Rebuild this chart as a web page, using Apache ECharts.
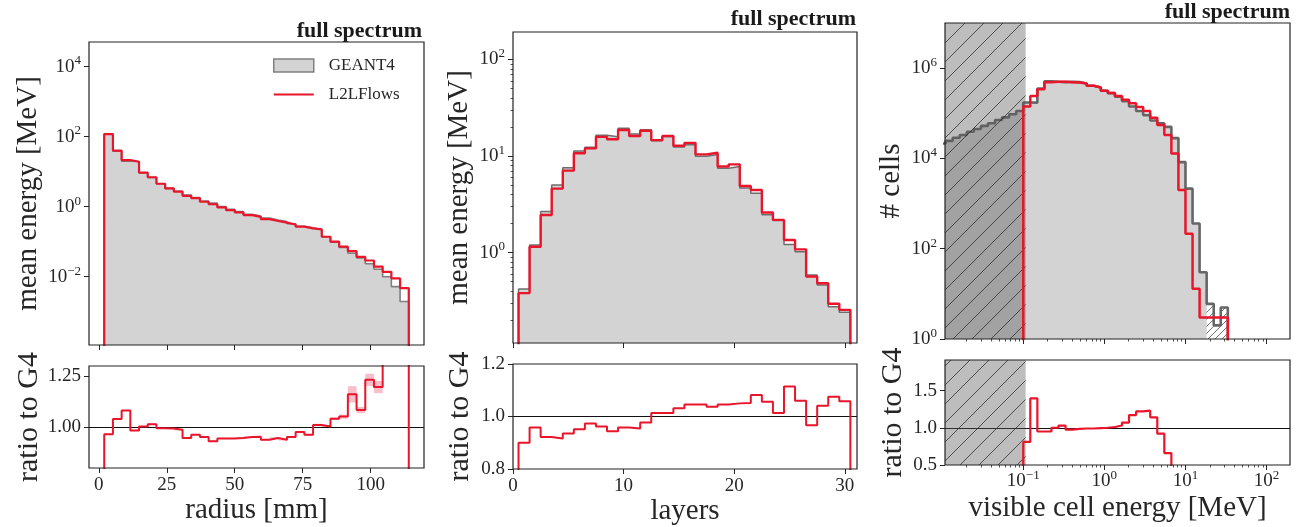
<!DOCTYPE html>
<html>
<head>
<meta charset="utf-8">
<script src="https://cdn.jsdelivr.net/npm/echarts@6/dist/echarts.min.js"></script>
<style>
  html, body { margin: 0; padding: 0; background: #fff; }
  #chart { width: 1297px; height: 527px; }
</style>
</head>
<body>
<div id="chart"></div>
<script>
// ---------------- radial profile (35 bins, mm) ----------------
const radiusEdges = [2, 5.2, 8.4, 11.6, 14.8, 18, 21.2, 24.4, 27.6, 30.8, 34, 37.2, 40.4, 43.6, 46.8,
  50, 53.2, 56.4, 59.6, 62.8, 66, 69.2, 72.4, 75.6, 78.8, 82, 85.2, 88.4, 91.6, 94.8, 98, 101.2,
  104.4, 107.6, 110.8, 114];
const radiusG4 = [121, 38.3, 19.8, 19.4, 9.27, 6.8, 4.52, 3.32, 2.74, 2.15, 1.81, 1.45, 1.26, 1.005,
  0.836, 0.729, 0.604, 0.535, 0.469, 0.412, 0.373, 0.326, 0.276, 0.249, 0.222, 0.138, 0.096, 0.0684,
  0.0465, 0.0341, 0.0235, 0.0163, 0.0100, 0.0052, 0.00196];
const radiusL2L = [117, 39.8, 21.4, 19.1, 9.3, 6.9, 4.5, 3.3, 2.7, 2.04, 1.74, 1.38, 1.17, 0.95,
  0.79, 0.69, 0.575, 0.51, 0.44, 0.39, 0.35, 0.31, 0.27, 0.24, 0.224, 0.138, 0.1, 0.072,
  0.054, 0.037, 0.029, 0.0195, 0.0138, 0.0089, 0.0047];
const radiusRatio = [0.966, 1.04, 1.082, 0.984, 1.003, 1.015, 0.995, 0.994, 0.987, 0.947, 0.963,
  0.952, 0.931, 0.945, 0.945, 0.947, 0.952, 0.953, 0.939, 0.947, 0.939, 0.952, 0.977, 0.963,
  1.011, 1.003, 1.042, 1.052, 1.161, 1.084, 1.232, 1.197, 1.38, 1.7, 2.4];
const radiusRatioErr = [0.003, 0.003, 0.003, 0.003, 0.003, 0.003, 0.003, 0.003, 0.003, 0.003,
  0.003, 0.003, 0.003, 0.003, 0.003, 0.003, 0.003, 0.003, 0.004, 0.004, 0.004, 0.004, 0.004,
  0.004, 0.006, 0.006, 0.006, 0.01, 0.04, 0.015, 0.03, 0.03, 0.05, 0.08, 0.15];
const radiusTicks = [0, 25, 50, 75, 100];

// ---------------- longitudinal profile (30 layers) ----------------
const layerEdges = [0.5, 1.5, 2.5, 3.5, 4.5, 5.5, 6.5, 7.5, 8.5, 9.5, 10.5, 11.5, 12.5, 13.5, 14.5,
  15.5, 16.5, 17.5, 18.5, 19.5, 20.5, 21.5, 22.5, 23.5, 24.5, 25.5, 26.5, 27.5, 28.5, 29.5, 30.5];
const layerG4 = [0.42, 1.2, 2.66, 5.02, 7.55, 11.25, 12.3, 16.4, 15.8, 19.4, 16.9, 18.7, 14.4, 15.9,
  12.4, 13.1, 9.94, 10.4, 7.46, 7.81, 4.66, 4.11, 2.46, 2.15, 1.21, 1.02, 0.584, 0.461, 0.274, 0.241];
const layerL2L = [0.38, 1.15, 2.45, 4.6, 7.06, 10.7, 12.0, 15.8, 14.9, 18.6, 16.1, 18.3, 14.6, 16.1,
  12.8, 13.7, 10.4, 10.8, 7.8, 8.2, 4.9, 4.45, 2.6, 2.18, 1.35, 1.08, 0.565, 0.48, 0.295, 0.255];
const layerRatio = [0.90, 0.958, 0.922, 0.916, 0.935, 0.951, 0.973, 0.962, 0.944, 0.958, 0.954, 0.977,
  1.013, 1.013, 1.031, 1.046, 1.046, 1.037, 1.046, 1.05, 1.051, 1.082, 1.056, 1.013, 1.114, 1.06,
  0.967, 1.041, 1.075, 1.058];
const layerTicks = [0, 10, 20, 30];

// ---------------- visible cell energy spectrum (MeV, log bins) ----------------
const energyEdges = [0.009036, 0.01104, 0.01349, 0.01648, 0.02014, 0.02460, 0.03006, 0.03673,
  0.04487, 0.05483, 0.06699, 0.08185, 0.1, 0.1222, 0.1493, 0.1824, 0.2228, 0.2723, 0.3327, 0.4064,
  0.4966, 0.6067, 0.7413, 0.9057, 1.1066, 1.352, 1.652, 2.018, 2.466, 3.013, 3.681, 4.498, 5.495,
  6.714, 8.204, 10.02, 12.25, 14.96, 18.28, 22.34, 27.29, 33.34];
const cellsG4 = [21400, 24500, 28800, 33100, 38900, 44700, 52500, 60300, 70800, 81300, 95500, 112000,
  174000, 172000, 355000, 513000, 501000, 490000, 501000, 490000, 457000, 407000, 372000, 316000,
  279000, 233000, 186000, 141000, 112000, 91200, 69200, 60300, 50100, 28200, 8300, 2140, 363, 30,
  6, 2, 5];
const l2lFirstBin = 12;            // L2LFlows cells start at 0.1 MeV
const cellsL2L = [141000, 240000, 339000, 490000, 501000, 501000, 490000, 479000, 457000, 407000,
  372000, 316000, 282000, 240000, 200000, 166000, 138000, 112000, 79400, 55000, 33100, 12900, 2000,
  214, 13, 3];
const cellsRatio = [0.81, 1.395, 0.95, 0.95, 1.0, 1.03, 0.975, 0.985, 0.99, 0.99, 0.995, 1.0, 1.01,
  1.03, 1.07, 1.17, 1.22, 1.23, 1.14, 0.92, 0.66, 0.46, 0.24, 0.1, 0.036, 0.1];
const lowStatBins = [38, 39, 40];  // sparse GEANT4 tail bins, drawn hatched
const energyCut = 0.107;           // cells below this energy are masked
const energyTicks = [-1, 0, 1, 2];

// ---------------- style ----------------
const FONT = '"Liberation Serif", "DejaVu Serif", serif';
const INK = '#262626';
const RED = '#e8152b';
const G4_FILL = '#d3d3d3';
const BAND = 'rgba(240,110,135,0.45)';
const FLOOR = -50;
const lg = Math.log10;
const same = v => v;

function hatchCanvas(bg, ink, step, width) {
  const c = document.createElement('canvas');
  c.width = step; c.height = step;
  const g = c.getContext('2d');
  g.fillStyle = bg; g.fillRect(0, 0, step, step);
  g.strokeStyle = ink; g.lineWidth = width;
  g.beginPath();
  g.moveTo(-1, step + 1); g.lineTo(step + 1, -1);
  g.moveTo(-1, 1); g.lineTo(1, -1);
  g.moveTo(step - 1, step + 1); g.lineTo(step + 1, step - 1);
  g.stroke();
  return c;
}
const maskPattern = { image: hatchCanvas('rgba(90,90,90,0.40)', 'rgba(40,40,40,0.75)', 19, 1), repeat: 'repeat' };
const tailPattern = { image: hatchCanvas('#ffffff', 'rgba(60,60,60,0.8)', 7, 0.9), repeat: 'repeat' };

// histogram outline: rises from below the axis at the first edge, drops at the last
function stepData(edges, values, fx, fy) {
  const last = edges.length - 1;
  const pts = [[fx(edges[0]), FLOOR]];
  values.forEach((v, i) => pts.push([fx(edges[i]), fy(v)]));
  pts.push([fx(edges[last]), fy(values[values.length - 1])]);
  pts.push([fx(edges[last]), FLOOR]);
  return pts;
}
function stepLevels(edges, values, fx) {
  const pts = values.map((v, i) => [fx(edges[i]), v]);
  pts.push([fx(edges[values.length]), values[values.length - 1]]);
  return pts;
}
function minorLogTicks(lo, hi) {
  const out = [];
  for (let d = Math.floor(lo); d <= Math.ceil(hi); d++)
    for (let m = 2; m <= 9; m++) {
      const v = d + lg(m);
      if (v > lo && v < hi) out.push(v);
    }
  return out;
}
function powLabel(v) {
  const e = Math.round(v);
  return '{b|10}{s|' + (e < 0 ? '\u2212' + (-e) : String(e)) + '}';
}
const powRich = {
  b: { fontFamily: FONT, fontSize: 19, color: INK, lineHeight: 24 },
  s: { fontFamily: FONT, fontSize: 13, color: INK, verticalAlign: 'top', lineHeight: 13 }
};

function axis(o) {
  const ax = {
    type: 'value', gridIndex: o.grid, min: o.min, max: o.max, position: o.pos, z: 5,
    axisLine: { show: false, onZero: false },
    splitLine: { show: false },
    axisTick: { show: true, inside: false, length: o.tickLen || 5, customValues: o.ticks,
      lineStyle: { color: INK, width: 1 } },
    axisLabel: { show: !!o.labels, customValues: o.ticks, margin: o.margin || 8, color: INK,
      fontFamily: FONT, fontSize: 19, formatter: o.fmt, rich: o.rich }
  };
  if (o.name) {
    ax.name = o.name;
    ax.nameLocation = 'middle';
    ax.nameGap = o.gap;
    ax.nameTextStyle = { fontFamily: FONT, fontSize: o.nameSize || 29, color: INK };
  }
  return ax;
}
const minorAxis = (grid, min, max, pos) => ({
  type: 'value', gridIndex: grid, min: min, max: max, position: pos, z: 5,
  axisLine: { show: false, onZero: false }, splitLine: { show: false }, axisLabel: { show: false },
  axisTick: { show: true, length: 2.5, customValues: minorLogTicks(min, max),
    lineStyle: { color: INK, width: 0.8 } }
});

// axis ranges
const X1 = [-3.6, 119.6], Y1 = [-3.95, 4.7], R1 = [0.8, 1.3];
const X2 = [0, 31.1], Y2 = [-0.937, 2.285], R2 = [0.8, 1.2];
const X3 = [-1.965, 2.29], Y3 = [0, 7], R3 = [0.5, 1.91];

const gridBox = (left, top, width, height) => ({
  left, top, width, height, show: true, z: 10, backgroundColor: 'rgba(0,0,0,0)',
  borderColor: '#222', borderWidth: 1.2, containLabel: false
});

const unitLine = {
  silent: true, symbol: 'none', label: { show: false }, animation: false,
  lineStyle: { color: '#111', width: 1, type: 'solid' }, data: [{ yAxis: 1 }]
};

const lineBase = { type: 'line', symbol: 'none', step: 'end', animation: false, clip: true, silent: true };

// uncertainty band of the ratio, one rectangle per bin
function bandSeries(xi, yi, edges, ratio, err) {
  return {
    type: 'custom', name: 'ratio uncertainty', xAxisIndex: xi, yAxisIndex: yi, z: 3, silent: true,
    clip: true, animation: false,
    data: ratio.map((r, i) => [edges[i], edges[i + 1], r - err[i], r + err[i]]),
    encode: { x: [0, 1], y: [2, 3] },
    renderItem: (params, api) => {
      const a = api.coord([api.value(0), api.value(3)]);
      const b = api.coord([api.value(1), api.value(2)]);
      const shape = echarts.graphic.clipRectByRect(
        { x: a[0], y: a[1], width: b[0] - a[0], height: b[1] - a[1] }, params.coordSys);
      return shape ? { type: 'rect', shape: shape, style: { fill: BAND } } : null;
    }
  };
}

const series = [
  // ---- radius, main ----
  Object.assign({}, lineBase, { name: 'GEANT4', xAxisIndex: 0, yAxisIndex: 0, z: 2,
    data: stepData(radiusEdges, radiusG4, same, lg),
    lineStyle: { color: '#7f7f7f', width: 1.6 },
    areaStyle: { color: G4_FILL, opacity: 1, origin: 'start' } }),
  Object.assign({}, lineBase, { name: 'L2LFlows', xAxisIndex: 0, yAxisIndex: 0, z: 6,
    data: stepData(radiusEdges, radiusL2L, same, lg),
    lineStyle: { color: RED, width: 2.2 } }),
  // ---- radius, ratio ----
  bandSeries(1, 1, radiusEdges, radiusRatio, radiusRatioErr),
  Object.assign({}, lineBase, { name: 'L2LFlows', xAxisIndex: 1, yAxisIndex: 1, z: 6,
    data: stepData(radiusEdges, radiusRatio, same, same),
    lineStyle: { color: RED, width: 2 }, markLine: unitLine }),

  // ---- layers, main ----
  Object.assign({}, lineBase, { name: 'GEANT4', xAxisIndex: 2, yAxisIndex: 2, z: 2,
    data: stepData(layerEdges, layerG4, same, lg),
    lineStyle: { color: '#6e6e6e', width: 1.5 },
    areaStyle: { color: G4_FILL, opacity: 1, origin: 'start' } }),
  Object.assign({}, lineBase, { name: 'L2LFlows', xAxisIndex: 2, yAxisIndex: 2, z: 6,
    data: stepData(layerEdges, layerL2L, same, lg),
    lineStyle: { color: RED, width: 2.4 } }),
  // ---- layers, ratio ----
  Object.assign({}, lineBase, { name: 'L2LFlows', xAxisIndex: 3, yAxisIndex: 3, z: 6,
    data: stepData(layerEdges, layerRatio, same, same),
    lineStyle: { color: RED, width: 2 }, markLine: unitLine }),

  // ---- cell energy, main ----
  Object.assign({}, lineBase, { name: 'GEANT4', xAxisIndex: 4, yAxisIndex: 4, z: 2,
    data: stepData(energyEdges, cellsG4, lg, lg),
    lineStyle: { width: 0, opacity: 0 },
    areaStyle: { color: G4_FILL, opacity: 1, origin: 'start' } }),
  Object.assign({}, lineBase, { name: 'GEANT4 sparse', xAxisIndex: 4, yAxisIndex: 4, z: 3,
    data: stepLevels(energyEdges.slice(lowStatBins[0]),
      cellsG4.slice(lowStatBins[0], lowStatBins[lowStatBins.length - 1] + 1).map(lg), lg),
    lineStyle: { width: 0, opacity: 0 },
    areaStyle: { color: tailPattern, opacity: 1, origin: 'start' } }),
  Object.assign({}, lineBase, { name: 'GEANT4 outline', xAxisIndex: 4, yAxisIndex: 4, z: 4,
    data: stepData(energyEdges, cellsG4, lg, lg),
    lineStyle: { color: '#666666', width: 2.6 } }),
  Object.assign({}, lineBase, { name: 'masked', xAxisIndex: 4, yAxisIndex: 4, z: 5, step: false,
    data: [[X3[0] - 1, Y3[1] + 1], [lg(energyCut), Y3[1] + 1]],
    lineStyle: { width: 0, opacity: 0 },
    areaStyle: { color: maskPattern, opacity: 1, origin: 'start' } }),
  Object.assign({}, lineBase, { name: 'L2LFlows', xAxisIndex: 4, yAxisIndex: 4, z: 6,
    data: stepData(energyEdges.slice(l2lFirstBin), cellsL2L, lg, lg),
    lineStyle: { color: RED, width: 2.5 } }),
  // ---- cell energy, ratio ----
  Object.assign({}, lineBase, { name: 'masked', xAxisIndex: 5, yAxisIndex: 5, z: 5, step: false,
    data: [[X3[0] - 1, R3[1] + 1], [lg(energyCut), R3[1] + 1]],
    lineStyle: { width: 0, opacity: 0 },
    areaStyle: { color: maskPattern, opacity: 1, origin: 'start' } }),
  Object.assign({}, lineBase, { name: 'L2LFlows', xAxisIndex: 5, yAxisIndex: 5, z: 6,
    data: stepData(energyEdges.slice(l2lFirstBin), cellsRatio, lg, same),
    lineStyle: { color: RED, width: 2.2 }, markLine: unitLine })
];

const titleStyle = { fontFamily: FONT, fontWeight: 'bold', fontSize: 22, color: '#1a1a1a' };

const option = {
  animation: false,
  backgroundColor: '#ffffff',
  title: [
    { text: 'full spectrum', right: 875, top: 20, padding: 0, textStyle: titleStyle },
    { text: 'full spectrum', right: 441, top: 8, padding: 0, textStyle: titleStyle },
    { text: 'full spectrum', right: 7, top: 1, padding: 0, textStyle: titleStyle }
  ],
  legend: {
    left: 273, top: 57, orient: 'vertical', itemWidth: 40, itemHeight: 13, itemGap: 12,
    selectedMode: false, padding: 0,
    textStyle: { fontFamily: FONT, fontSize: 17, color: INK, padding: [0, 0, 0, 10] },
    data: [
      { name: 'GEANT4', icon: 'rect', itemStyle: { color: G4_FILL, borderColor: '#808080', borderWidth: 1.5 } },
      { name: 'L2LFlows', icon: 'path://M0,0H40V2H0Z', itemStyle: { color: RED, borderWidth: 0 } }
    ]
  },
  grid: [
    gridBox(89, 42, 335, 303),
    gridBox(89, 366, 335, 102),
    gridBox(513, 32, 344, 311),
    gridBox(513, 364, 344, 105),
    gridBox(945, 23, 345, 316),
    gridBox(945, 360, 345, 105)
  ],
  xAxis: [
    axis({ grid: 0, min: X1[0], max: X1[1], pos: 'bottom', ticks: radiusTicks }),
    axis({ grid: 1, min: X1[0], max: X1[1], pos: 'bottom', ticks: radiusTicks, labels: true,
      name: 'radius [mm]', gap: 27 }),
    axis({ grid: 2, min: X2[0], max: X2[1], pos: 'bottom', ticks: layerTicks }),
    axis({ grid: 3, min: X2[0], max: X2[1], pos: 'bottom', ticks: layerTicks, labels: true,
      name: 'layers', gap: 25 }),
    axis({ grid: 4, min: X3[0], max: X3[1], pos: 'bottom', ticks: energyTicks }),
    axis({ grid: 5, min: X3[0], max: X3[1], pos: 'bottom', ticks: energyTicks, labels: true,
      fmt: powLabel, rich: powRich, margin: 4, name: 'visible cell energy [MeV]', gap: 29 }),
    minorAxis(4, X3[0], X3[1], 'bottom'),
    minorAxis(5, X3[0], X3[1], 'bottom')
  ],
  yAxis: [
    axis({ grid: 0, min: Y1[0], max: Y1[1], pos: 'left', ticks: [-2, 0, 2, 4], labels: true,
      fmt: powLabel, rich: powRich, name: 'mean energy [MeV]', gap: 46 }),
    axis({ grid: 1, min: R1[0], max: R1[1], pos: 'left', ticks: [1.0, 1.25], labels: true,
      fmt: v => v.toFixed(2), name: 'ratio to G4', gap: 44, nameSize: 30 }),
    axis({ grid: 2, min: Y2[0], max: Y2[1], pos: 'left', ticks: [0, 1, 2], labels: true,
      fmt: powLabel, rich: powRich, name: 'mean energy [MeV]', gap: 39 }),
    axis({ grid: 3, min: R2[0], max: R2[1], pos: 'left', ticks: [0.8, 1.0, 1.2], labels: true,
      fmt: v => v.toFixed(1), name: 'ratio to G4', gap: 38, nameSize: 30 }),
    axis({ grid: 4, min: Y3[0], max: Y3[1], pos: 'left', ticks: [0, 2, 4, 6], labels: true,
      fmt: powLabel, rich: powRich, name: '# cells', gap: 39 }),
    axis({ grid: 5, min: R3[0], max: R3[1], pos: 'left', ticks: [0.5, 1.0, 1.5], labels: true,
      fmt: v => v.toFixed(1), name: 'ratio to G4', gap: 37, nameSize: 30 }),
    minorAxis(2, Y2[0], Y2[1], 'left')
  ],
  series: series
};

const chart = echarts.init(document.getElementById('chart'), null, { renderer: 'canvas' });
chart.setOption(option);
</script>
</body>
</html>
